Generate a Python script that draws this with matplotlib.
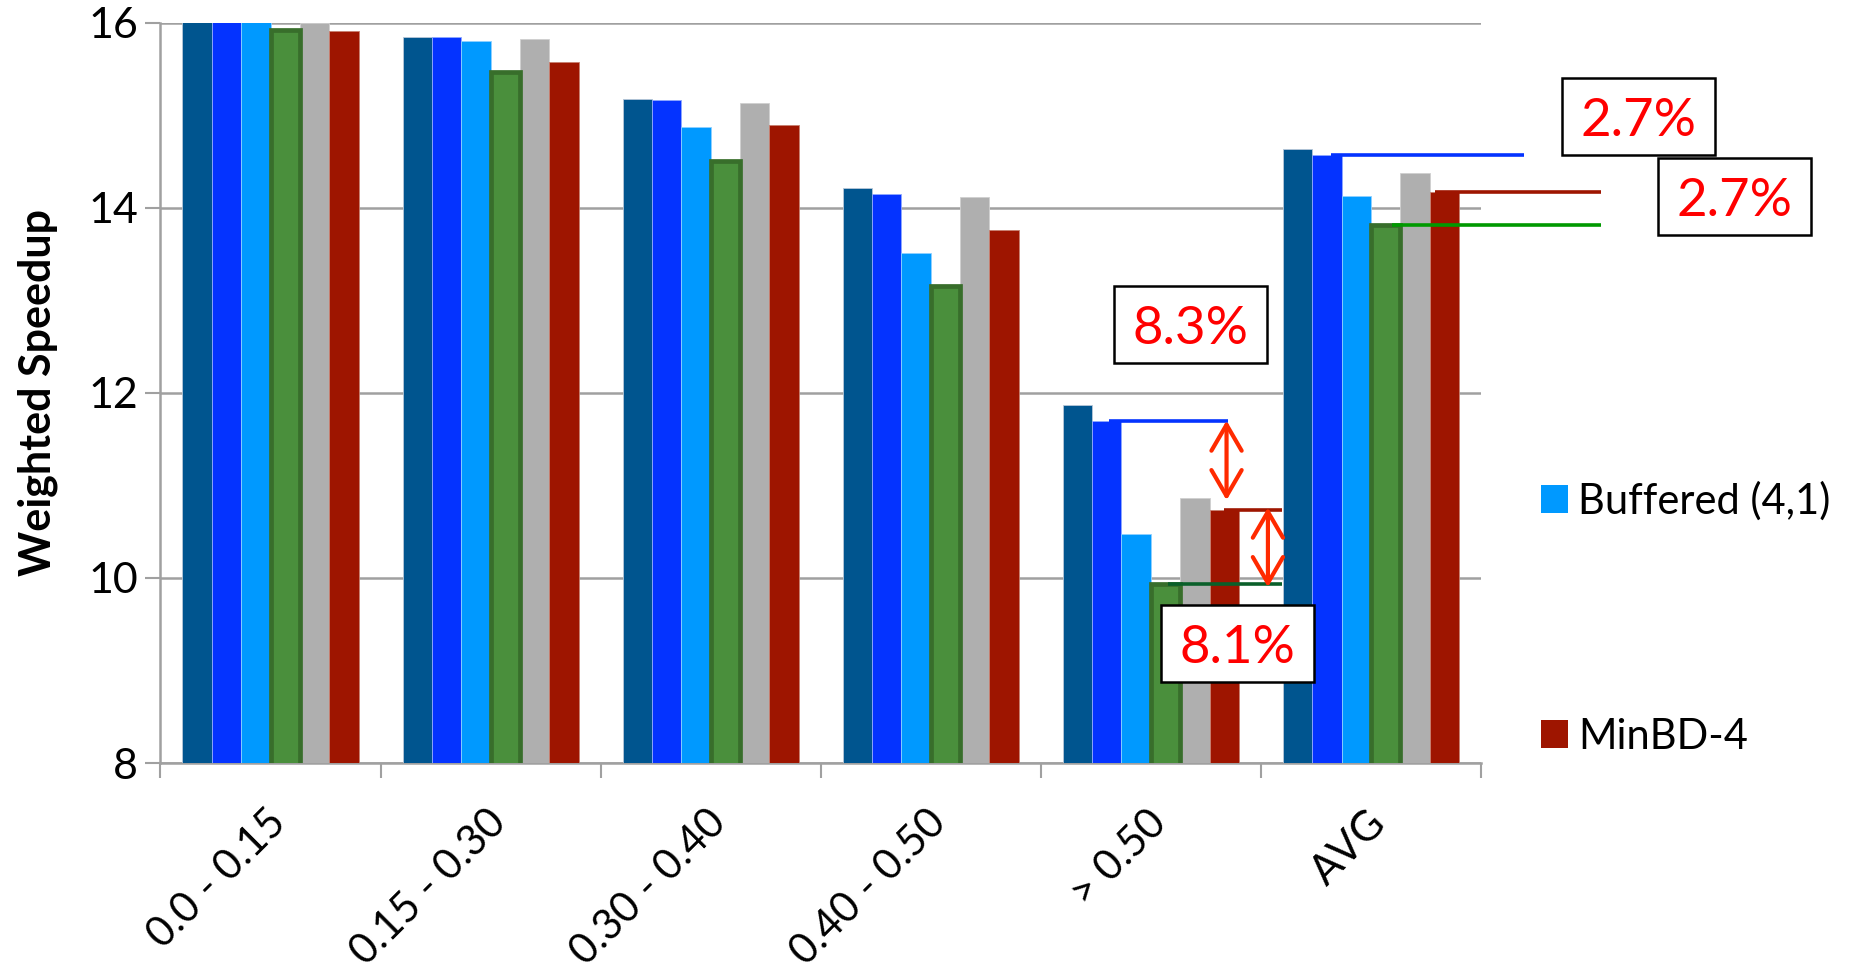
import numpy as np
import matplotlib
matplotlib.use("Agg")
import matplotlib.pyplot as plt
from matplotlib.patches import Patch, Rectangle

# ---- data -------------------------------------------------------------
categories = ["0.0 - 0.15", "0.15 - 0.30", "0.30 - 0.40", "0.40 - 0.50", "> 0.50", "AVG"]
series_names = ["Buffered (8,8)", "Buffered (4,4)", "Buffered (4,1)", "CHIPPER", "AFC (4,4)", "MinBD-4"]
buf88 = [16.25, 15.85, 15.18, 14.21, 11.87, 14.63]
buf44 = [16.20, 15.85, 15.16, 14.15, 11.70, 14.57]
buf41 = [16.10, 15.80, 14.87, 13.51, 10.47, 14.13]
chipper = [15.92, 15.47, 14.51, 13.15, 9.93, 13.81]
afc44 = [16.00, 15.82, 15.13, 14.12, 10.86, 14.38]
minbd4 = [15.91, 15.58, 14.89, 13.76, 10.73, 14.17]
yticks = [8, 10, 12, 14, 16]
pct_labels = ["8.3%", "8.1%", "2.7%", "2.7%"]

series = [buf88, buf44, buf41, chipper, afc44, minbd4]
colors = ["#00558F", "#0433FF", "#0099FF", "#4A8F3C", "#AFAFAF", "#9E1500"]
edges = ["#B8C8D8", "#8FA8FF", "#8FD0FF", "#386E2B", "#D0D0D0", "#C88070"]
edge_w = [0.6, 0.6, 0.6, 3.4, 0.6, 0.6]

FONT = "Lato"

# ---- figure -------------------------------------------------------------
fig = plt.figure(figsize=(18.64, 9.72), dpi=100)
ax = fig.add_axes([0.0861, 0.215, 0.7084, 0.7617])

x = np.arange(len(categories))
n = len(series)
group_w = 0.8
bw = group_w / n
for i, (vals, c, ec, lw) in enumerate(zip(series, colors, edges, edge_w)):
    off = -group_w / 2 + (i + 0.5) * bw
    ax.bar(x + off, vals, width=bw, color=c, edgecolor=ec, linewidth=lw,
           zorder=3 if i != 3 else 4, label=series_names[i])

ax.set_xlim(-0.5, len(categories) - 0.5)
ax.set_ylim(8, 16)
ax.set_yticks(yticks)
ax.set_yticklabels([str(t) for t in yticks], fontsize=31, family=FONT)
ax.yaxis.grid(True, color="#A0A0A0", linewidth=1.8, zorder=0)
ax.set_axisbelow(True)

# category labels at centres, tick marks at the boundaries
ax.set_xticks(x - 0.02)
ax.set_xticklabels(categories, fontsize=30, family=FONT,
                   rotation=45, ha="right", va="top", rotation_mode="anchor")
ax.set_xticks(np.arange(len(categories) + 1) - 0.5, minor=True)
ax.tick_params(axis="x", which="major", length=0, pad=29)
ax.tick_params(axis="x", which="minor", length=11, width=1.5, color="#A0A0A0", direction="out")
ax.tick_params(axis="y", length=11, width=1.5, color="#A0A0A0", pad=5)

for s in ["top", "right"]:
    ax.spines[s].set_visible(False)
for s in ["left", "bottom"]:
    ax.spines[s].set_color("#A0A0A0")
    ax.spines[s].set_linewidth(1.8)

ax.set_ylabel("Weighted Speedup", fontsize=31, fontweight="bold", family=FONT, va="center")
ax.yaxis.set_label_coords(-0.093, 0.5)


def bar_center(series_idx, cat_idx):
    return cat_idx - group_w / 2 + (series_idx + 0.5) * bw


# ---- difference markers ------------------------------------------------------
g = 4
ax.plot([bar_center(1, g) + 0.01, 4.35], [buf44[g]] * 2, color="#0433FF", lw=2.6,
        zorder=5, solid_capstyle="butt")
ax.plot([bar_center(5, g), 4.596], [minbd4[g]] * 2, color="#9E1500", lw=2.6,
        zorder=5, solid_capstyle="butt")
ax.plot([bar_center(3, g) + 0.01, 4.596], [chipper[g]] * 2, color="#0A5F2A", lw=2.6,
        zorder=5, solid_capstyle="butt")

arrow_kw = dict(arrowstyle="<->,head_length=0.55,head_width=0.32", color="#FF2A00",
                lw=3.0, mutation_scale=34, shrinkA=0, shrinkB=0)
ax.annotate("", xy=(4.344, minbd4[g] + 0.11), xytext=(4.344, buf44[g]),
            arrowprops=arrow_kw, annotation_clip=False, zorder=6)
ax.annotate("", xy=(4.532, chipper[g] - 0.03), xytext=(4.532, minbd4[g] + 0.03),
            arrowprops=arrow_kw, annotation_clip=False, zorder=6)

g = 5
ax.plot([bar_center(1, g) + 0.02, 5.695], [buf44[g]] * 2, color="#0433FF", lw=2.6,
        zorder=5, clip_on=False, solid_capstyle="butt")
ax.plot([bar_center(5, g) - 0.04, 6.044], [minbd4[g]] * 2, color="#9E1500", lw=2.6,
        zorder=5, clip_on=False, solid_capstyle="butt")
ax.plot([bar_center(3, g) + 0.03, 6.044], [chipper[g]] * 2, color="#009900", lw=2.6,
        zorder=5, clip_on=False, solid_capstyle="butt")

# ---- percentage boxes -----------------------------------------------------------
box_w, box_h = 0.695, 0.832
box_pos = [(3.832, 12.322), (4.046, 8.875), (5.868, 14.569), (6.304, 13.705)]
for (bx, by), txt in zip(box_pos, pct_labels):
    ax.add_patch(Rectangle((bx, by), box_w, box_h, facecolor="white", edgecolor="black",
                           linewidth=1.8, zorder=7, clip_on=False))
    ax.text(bx + box_w / 2, by + box_h / 2, txt, color="#FF0000", fontsize=38,
            family=FONT, ha="center", va="center_baseline", zorder=8, clip_on=False)

# ---- legend --------------------------------------------------------------
handles = [Patch(facecolor="#0099FF"), Patch(facecolor="#9E1500")]
leg = fig.legend(handles, ["Buffered (4,1)", "MinBD-4"], loc="upper left",
                 bbox_to_anchor=(1541 / 1864, 1 - 481 / 972),
                 frameon=False, prop={"family": FONT, "size": 30},
                 handlelength=0.65, handleheight=0.65, handletextpad=0.25,
                 labelspacing=4.74, borderpad=0, borderaxespad=0)

fig.savefig("out.png", dpi=100)
